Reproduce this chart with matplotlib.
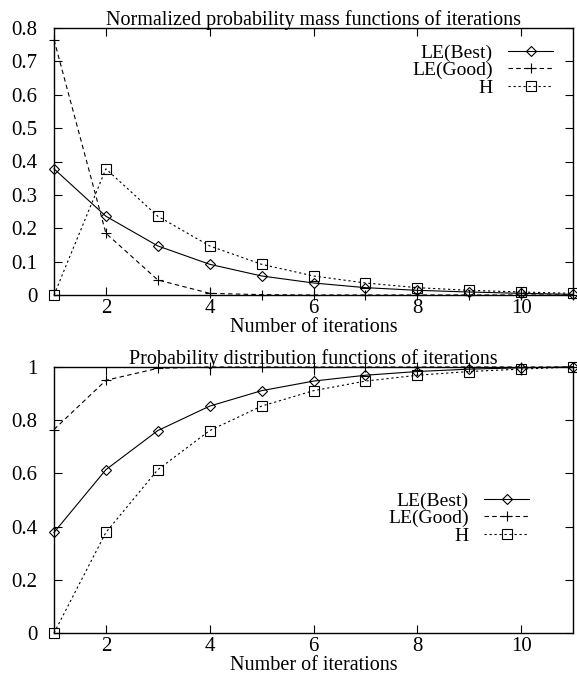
import matplotlib
matplotlib.use("Agg")
import matplotlib.pyplot as plt
from matplotlib.ticker import FuncFormatter

iterations = [1, 2, 3, 4, 5, 6, 7, 8, 9, 10, 11]

pmf_best = [0.378, 0.236, 0.147, 0.092, 0.057, 0.036, 0.022, 0.014, 0.009, 0.005, 0.002]
pmf_good = [0.765, 0.185, 0.045, 0.005, 0.001, 0.0, 0.0, 0.0, 0.0, 0.0, 0.0]
pmf_h = [0.0, 0.378, 0.236, 0.147, 0.092, 0.057, 0.036, 0.022, 0.014, 0.009, 0.005]

cdf_best = [0.378, 0.614, 0.761, 0.853, 0.911, 0.947, 0.969, 0.983, 0.992, 0.997, 1.0]
cdf_good = [0.765, 0.950, 0.995, 1.0, 1.0, 1.0, 1.0, 1.0, 1.0, 1.0, 1.0]
cdf_h = [0.0, 0.378, 0.614, 0.761, 0.853, 0.911, 0.947, 0.969, 0.983, 0.992, 1.0]

series_labels = ["LE(Best)", "LE(Good)", "H"]
titles = ["Normalized probability mass functions of iterations",
          "Probability distribution functions of iterations"]
xlabel = "Number of iterations"
x_ticks = [2, 4, 6, 8, 10]
y_ticks_top = [0, 0.1, 0.2, 0.3, 0.4, 0.5, 0.6, 0.7, 0.8]
y_ticks_bottom = [0, 0.2, 0.4, 0.6, 0.8, 1.0]

plt.rcParams['font.family'] = ['Liberation Serif', 'DejaVu Serif']
TFS = 15     # tick labels
FS = 14.5    # title / axis label
LFS = 14     # legend

fig = plt.figure(figsize=(5.77, 6.79), dpi=100)
W, H = 577, 679

def axes_px(l, r, t, b):
    return fig.add_axes([l / W, 1 - b / H, (r - l) / W, (b - t) / H])

ax1 = axes_px(54, 573, 28, 295)
ax2 = axes_px(54, 573, 367, 633)

styles = [
    dict(linestyle='-', marker='D', markersize=5.2),
    dict(linestyle=(0, (4, 3)), marker='+', markersize=7.5),
    dict(linestyle=(0, (2, 2.5)), marker='s', markersize=6.8),
]

def fmt(v, pos):
    s = f"{v:.1f}"
    if s.endswith(".0"):
        s = s[:-2]
    return s

def setup(ax, data, yticks, ylim, title, leg_anchor):
    for y, lab, st in zip(data, series_labels, styles):
        ax.plot(iterations, y, color='black', linewidth=0.8,
                markerfacecolor='none', markeredgecolor='black',
                markeredgewidth=0.8, label=lab, clip_on=False, **st)
    ax.set_xlim(1, 11)
    ax.set_ylim(*ylim)
    ax.set_xticks(x_ticks)
    ax.set_yticks(yticks)
    ax.yaxis.set_major_formatter(FuncFormatter(fmt))
    ax.tick_params(direction='in', length=6, width=0.8, top=True, right=True,
                   labelsize=TFS)
    ax.tick_params(axis='y', pad=12)
    ax.tick_params(axis='x', pad=3)
    for sp in ax.spines.values():
        sp.set_linewidth(1.0)
    ax.set_title(title, fontsize=FS, pad=2)
    ax.set_xlabel(xlabel, fontsize=FS, labelpad=0)
    leg = ax.legend(loc='upper right', bbox_to_anchor=leg_anchor,
                    frameon=False, markerfirst=False, prop={'size': LFS},
                    handlelength=2.3, handletextpad=0.8, labelspacing=0.0,
                    borderpad=0, borderaxespad=0)
    for t in leg.get_texts():
        t.set_ha('right')
    return leg

setup(ax1, [pmf_best, pmf_good, pmf_h], y_ticks_top, (0, 0.8), titles[0],
      ((553 - 54) / 519, 1 - (44 - 28) / 267))
setup(ax2, [cdf_best, cdf_good, cdf_h], y_ticks_bottom, (0, 1), titles[1],
      ((529 - 54) / 519, 1 - (492 - 367) / 266))

fig.savefig("out.png", dpi=100)
